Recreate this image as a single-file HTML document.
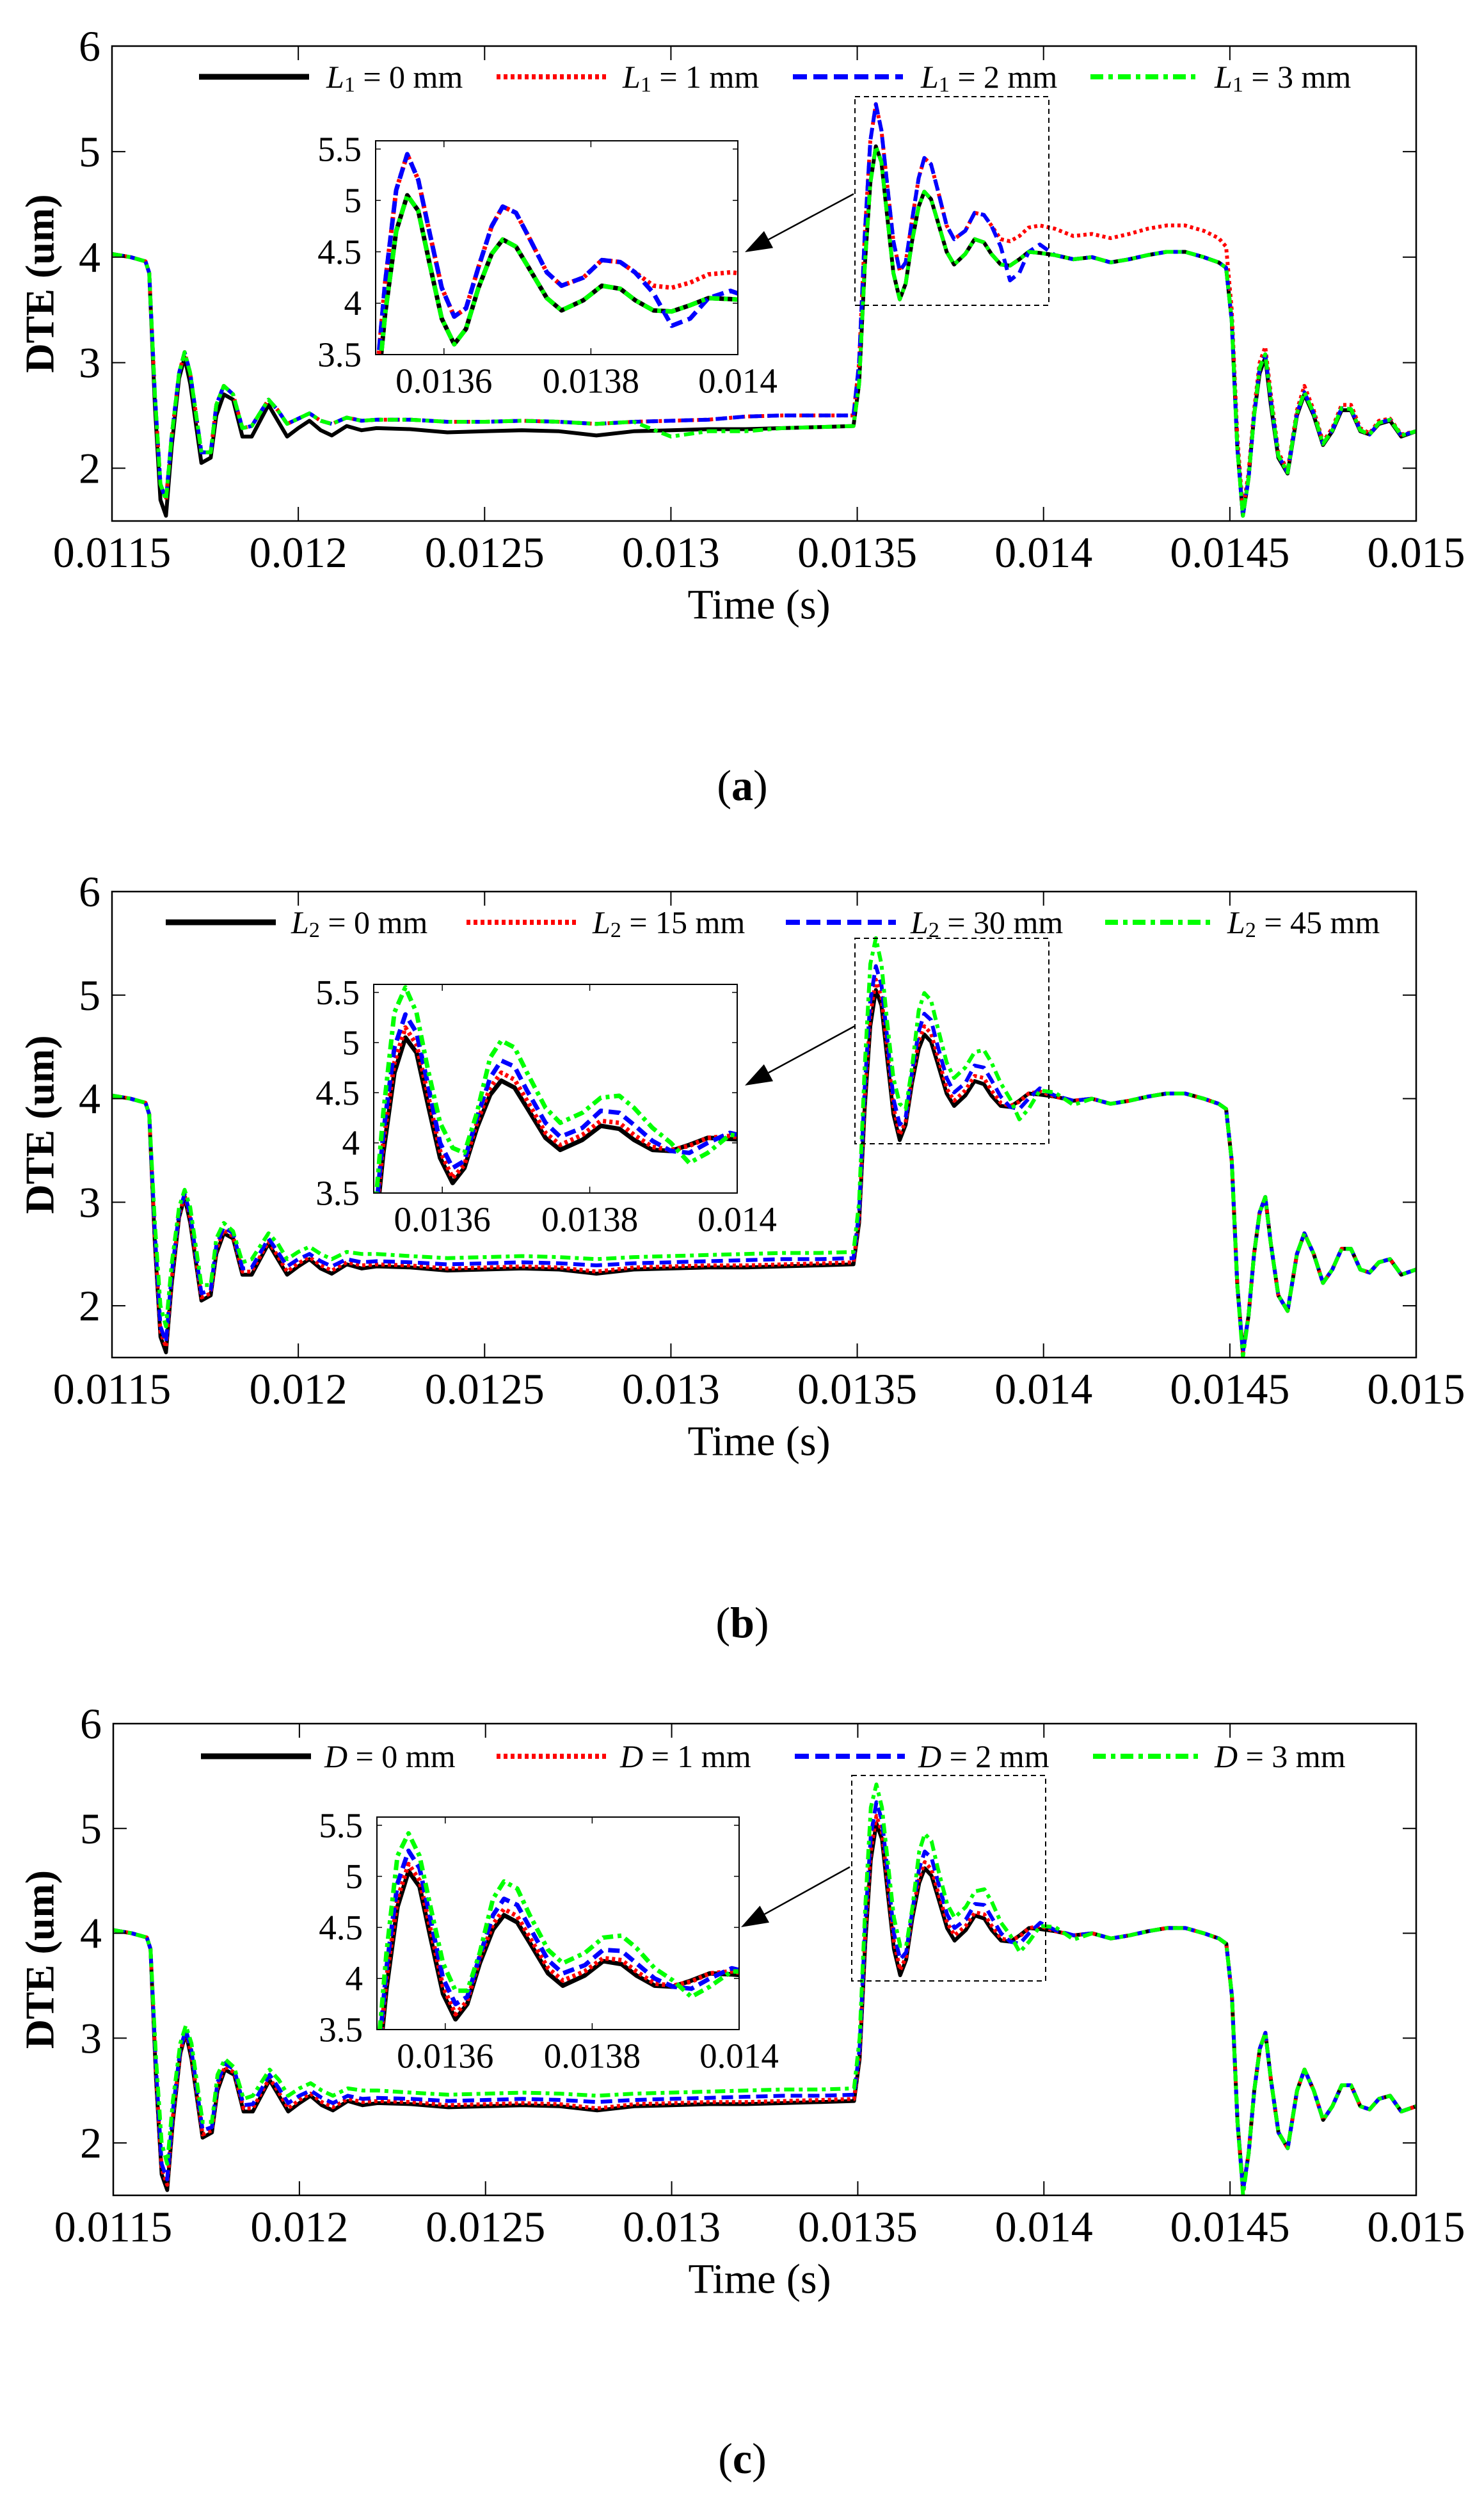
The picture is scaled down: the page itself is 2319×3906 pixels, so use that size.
<!DOCTYPE html>
<html><head><meta charset="utf-8"><title>DTE time histories</title>
<style>
html,body{margin:0;padding:0;background:#fff;}
svg{display:block;font-family:"Liberation Serif","DejaVu Serif",serif;}
text{font-family:"Liberation Serif","DejaVu Serif",serif;}
</style></head>
<body>
<svg id="fig" width="2319" height="3906" viewBox="0 0 2319 3906" xmlns="http://www.w3.org/2000/svg" font-family="Liberation Serif, serif">
<rect x="0" y="0" width="2319" height="3906" fill="#fff"/>
</svg>
<script>
// ---------- data ----------
const times = [0.01150,0.01155,0.01159,0.01160,0.011615,0.01163,0.011645,0.01166,0.01168,0.011695,
0.01171,0.01174,0.011765,0.01178,0.01180,0.011825,0.01185,0.011875,0.01192,0.011945,
0.01197,0.01200,0.01203,0.01206,0.01209,0.01213,0.01217,0.01221,0.0123,0.0124,
0.0125,0.0126,0.0127,0.0128,0.0129,0.0130,0.0131,0.0132,0.0133,0.0134,
0.01349,0.013505,0.01352,0.013535,0.01355,0.013565,0.01358,0.013597,0.013614,0.01363,
0.013647,0.013665,0.01368,0.013698,0.013715,0.01374,0.01376,0.01379,0.013815,0.01384,
0.01386,0.013885,0.01391,0.013935,0.01396,0.01399,0.01403,0.01408,0.01413,0.01418,
0.01423,0.01428,0.01433,0.01438,0.01443,0.01447,0.01449,0.014505,0.01452,0.014535,
0.01455,0.014565,0.01458,0.014595,0.01461,0.01463,0.014655,0.01468,0.0147,0.014725,
0.01475,0.014775,0.0148,0.014825,0.01485,0.014875,0.0149,0.01493,0.01496,0.0150];

const base = [4.03,4.00,3.96,3.85,2.6,1.7,1.55,2.2,2.85,3.05,
2.8,2.05,2.1,2.5,2.7,2.65,2.3,2.3,2.6,2.45,
2.3,2.38,2.45,2.36,2.31,2.4,2.36,2.38,2.37,2.34,
2.35,2.36,2.35,2.31,2.35,2.36,2.37,2.37,2.38,2.39,
2.4,2.8,3.9,4.7,5.05,4.9,4.4,3.85,3.6,3.75,
4.15,4.48,4.62,4.55,4.35,4.05,3.93,4.03,4.17,4.14,
4.03,3.93,3.92,3.98,4.05,4.04,4.02,3.98,4.0,3.95,
3.98,4.02,4.05,4.05,4.0,3.95,3.9,3.4,2.2,1.55,
1.9,2.5,2.9,3.05,2.6,2.1,1.95,2.5,2.7,2.5,
2.22,2.35,2.55,2.55,2.35,2.32,2.42,2.45,2.3,2.35];

// panel (a)
const aL1_0 = base;
const aL1_1 = [4.03,4.00,3.96,3.85,2.7,1.85,1.7,2.3,2.9,3.1,
2.9,2.15,2.15,2.6,2.78,2.7,2.38,2.4,2.65,2.55,
2.42,2.47,2.52,2.45,2.42,2.48,2.45,2.46,2.46,2.44,
2.44,2.45,2.44,2.42,2.44,2.45,2.46,2.49,2.50,2.50,
2.5,3.0,4.2,5.1,5.45,5.2,4.7,4.15,3.87,3.95,
4.35,4.75,4.94,4.88,4.65,4.3,4.17,4.25,4.42,4.4,
4.3,4.17,4.15,4.2,4.28,4.3,4.27,4.2,4.22,4.18,
4.22,4.27,4.3,4.3,4.25,4.18,4.1,3.5,2.3,1.6,
1.95,2.55,3.0,3.15,2.7,2.15,1.98,2.55,2.78,2.55,
2.25,2.38,2.6,2.6,2.38,2.33,2.45,2.47,2.32,2.35];
const aL1_2 = [4.03,4.00,3.96,3.85,2.7,1.85,1.7,2.3,2.9,3.1,
2.9,2.15,2.15,2.6,2.78,2.7,2.38,2.4,2.65,2.55,
2.42,2.47,2.52,2.45,2.42,2.48,2.45,2.46,2.46,2.44,
2.44,2.45,2.44,2.42,2.44,2.45,2.46,2.49,2.50,2.50,
2.5,3.0,4.2,5.1,5.45,5.2,4.7,4.15,3.87,3.95,
4.35,4.75,4.94,4.88,4.65,4.3,4.17,4.25,4.42,4.4,
4.3,4.1,3.78,3.85,4.05,4.12,4.02,3.98,4.0,3.95,
3.98,4.02,4.05,4.05,4.0,3.95,3.9,3.4,2.2,1.55,
1.9,2.5,2.95,3.08,2.65,2.12,1.96,2.52,2.72,2.52,
2.23,2.36,2.57,2.56,2.36,2.32,2.43,2.46,2.31,2.35];
const aL1_3 = [4.03,4.00,3.96,3.85,2.7,1.85,1.7,2.3,2.9,3.1,
2.9,2.15,2.15,2.6,2.78,2.7,2.38,2.4,2.65,2.55,
2.42,2.47,2.52,2.45,2.42,2.48,2.45,2.46,2.46,2.44,
2.44,2.45,2.44,2.42,2.44,2.3,2.35,2.35,2.38,2.39,
2.4,2.8,3.9,4.7,5.05,4.9,4.4,3.85,3.6,3.75,
4.15,4.48,4.62,4.55,4.35,4.05,3.93,4.03,4.17,4.14,
4.03,3.93,3.92,3.98,4.05,4.04,4.02,3.98,4.0,3.95,
3.98,4.02,4.05,4.05,4.0,3.95,3.9,3.4,2.2,1.55,
1.9,2.5,2.95,3.08,2.65,2.12,1.96,2.52,2.72,2.52,
2.23,2.36,2.57,2.56,2.36,2.32,2.43,2.46,2.31,2.35];

// panel (b)
const bL2_0 = base;
const bL2_15 = [4.03,4.00,3.96,3.85,2.65,1.75,1.6,2.25,2.87,3.07,
2.84,2.08,2.12,2.54,2.73,2.67,2.33,2.33,2.62,2.48,
2.33,2.41,2.47,2.39,2.34,2.42,2.39,2.4,2.39,2.36,
2.37,2.38,2.37,2.33,2.37,2.38,2.39,2.39,2.4,2.41,
2.42,2.85,4.0,4.8,5.15,4.98,4.5,3.92,3.65,3.78,
4.2,4.55,4.7,4.63,4.42,4.1,3.98,4.08,4.22,4.2,
4.08,3.96,3.93,3.97,4.05,4.07,4.02,3.98,4.0,3.95,
3.98,4.02,4.05,4.05,4.0,3.95,3.9,3.4,2.2,1.55,
1.9,2.5,2.9,3.05,2.6,2.1,1.95,2.5,2.7,2.5,
2.22,2.35,2.55,2.55,2.35,2.32,2.42,2.45,2.3,2.35];
const bL2_30 = [4.03,4.00,3.96,3.85,2.7,1.8,1.65,2.3,2.9,3.08,
2.88,2.12,2.15,2.58,2.76,2.7,2.36,2.37,2.65,2.52,
2.38,2.45,2.5,2.43,2.38,2.45,2.42,2.43,2.42,2.4,
2.41,2.42,2.41,2.39,2.41,2.42,2.43,2.44,2.45,2.45,
2.46,2.9,4.1,4.95,5.28,5.1,4.6,4.0,3.75,3.82,
4.25,4.65,4.82,4.76,4.52,4.2,4.06,4.15,4.32,4.3,
4.18,4.02,3.92,3.9,4.0,4.1,4.03,3.98,4.0,3.95,
3.98,4.02,4.05,4.05,4.0,3.95,3.9,3.4,2.2,1.55,
1.9,2.5,2.9,3.05,2.6,2.1,1.95,2.5,2.7,2.5,
2.22,2.35,2.55,2.55,2.35,2.32,2.42,2.45,2.3,2.35];
const bL2_45 = [4.03,4.00,3.96,3.85,2.8,2.0,1.8,2.4,2.95,3.12,
2.95,2.2,2.2,2.65,2.8,2.72,2.42,2.45,2.7,2.6,
2.45,2.52,2.57,2.5,2.45,2.52,2.5,2.5,2.48,2.46,
2.47,2.48,2.47,2.45,2.47,2.48,2.49,2.5,2.51,2.51,
2.52,3.0,4.3,5.3,5.55,5.3,4.75,4.2,3.95,3.9,
4.3,4.85,5.02,4.95,4.7,4.35,4.2,4.3,4.45,4.47,
4.35,4.15,4.0,3.8,3.9,4.08,4.06,3.94,4.0,3.95,
3.98,4.02,4.05,4.05,4.0,3.95,3.9,3.4,2.2,1.5,
1.9,2.5,2.9,3.05,2.6,2.1,1.95,2.5,2.7,2.5,
2.22,2.35,2.55,2.55,2.35,2.32,2.42,2.45,2.3,2.35];

// panel (c)
const cD_0 = base;
const cD_1 = [4.03,4.00,3.96,3.85,2.65,1.75,1.6,2.25,2.87,3.07,
2.84,2.08,2.12,2.54,2.73,2.67,2.33,2.33,2.62,2.48,
2.33,2.41,2.47,2.39,2.34,2.42,2.39,2.4,2.39,2.36,
2.37,2.38,2.37,2.33,2.37,2.38,2.39,2.39,2.4,2.41,
2.42,2.85,4.0,4.78,5.12,4.96,4.48,3.92,3.65,3.78,
4.2,4.53,4.68,4.61,4.4,4.1,3.98,4.07,4.2,4.18,
4.07,3.95,3.93,3.97,4.05,4.07,4.02,3.98,4.0,3.95,
3.98,4.02,4.05,4.05,4.0,3.95,3.9,3.4,2.2,1.55,
1.9,2.5,2.9,3.05,2.6,2.1,1.95,2.5,2.7,2.5,
2.22,2.35,2.55,2.55,2.35,2.32,2.42,2.45,2.3,2.35];
const cD_2 = [4.03,4.00,3.96,3.85,2.7,1.8,1.65,2.3,2.9,3.08,
2.88,2.12,2.15,2.58,2.76,2.7,2.36,2.37,2.65,2.52,
2.38,2.45,2.5,2.43,2.38,2.45,2.42,2.43,2.42,2.4,
2.41,2.42,2.41,2.39,2.41,2.42,2.43,2.44,2.45,2.45,
2.46,2.9,4.1,4.93,5.25,5.08,4.58,4.0,3.75,3.82,
4.22,4.62,4.78,4.72,4.5,4.18,4.05,4.13,4.28,4.27,
4.15,4.0,3.92,3.9,4.0,4.1,4.03,3.98,4.0,3.95,
3.98,4.02,4.05,4.05,4.0,3.95,3.9,3.4,2.2,1.55,
1.9,2.5,2.9,3.05,2.6,2.1,1.95,2.5,2.7,2.5,
2.22,2.35,2.55,2.55,2.35,2.32,2.42,2.45,2.3,2.35];
const cD_3 = [4.03,4.00,3.96,3.85,2.8,2.0,1.8,2.4,2.95,3.12,
2.95,2.2,2.2,2.65,2.8,2.72,2.42,2.45,2.7,2.6,
2.45,2.52,2.57,2.5,2.45,2.52,2.5,2.5,2.48,2.46,
2.47,2.48,2.47,2.45,2.47,2.48,2.49,2.5,2.51,2.51,
2.52,3.0,4.25,5.2,5.42,5.2,4.7,4.15,3.88,3.88,
4.25,4.78,4.95,4.88,4.62,4.28,4.15,4.25,4.4,4.42,
4.3,4.1,3.98,3.82,3.92,4.07,4.06,3.94,4.0,3.95,
3.98,4.02,4.05,4.05,4.0,3.95,3.9,3.4,2.2,1.5,
1.9,2.5,2.9,3.05,2.6,2.1,1.95,2.5,2.7,2.5,
2.22,2.35,2.55,2.55,2.35,2.32,2.42,2.45,2.3,2.35];

const xTicks = [0.0115,0.012,0.0125,0.013,0.0135,0.014,0.0145,0.015];
const xTickLabels = ["0.0115","0.012","0.0125","0.013","0.0135","0.014","0.0145","0.015"];
const yTicks = [2,3,4,5,6];
const yTickLabels = ["2","3","4","5","6"];
const insetXTicks = [0.0136,0.0138,0.014];
const insetXTickLabels = ["0.0136","0.0138","0.014"];
const insetYTicks = [3.5,4,4.5,5,5.5];
const insetYTickLabels = ["3.5","4","4.5","5","5.5"];
const legendA = ["0 mm","1 mm","2 mm","3 mm"];
const legendB = ["0 mm","15 mm","30 mm","45 mm"];
const legendC = ["0 mm","1 mm","2 mm","3 mm"];

// ---------- drawing ----------
const NS = "http://www.w3.org/2000/svg";
const FONT = "'Liberation Serif', 'DejaVu Serif', serif";
const svg = document.getElementById('fig');
const styles = [
  {color:'#000000', dash:null},
  {color:'#ff0000', dash:'5,5'},
  {color:'#0000ff', dash:'18,9'},
  {color:'#00ff00', dash:'16,7,6,7'}
];
function mk(tag, attrs, parent){
  const e = document.createElementNS(NS, tag);
  for (const k in attrs) e.setAttribute(k, attrs[k]);
  (parent||svg).appendChild(e);
  return e;
}
function txt(x,y,str,size,anchor,parent,extra){
  const t = mk('text',{x:x,y:y,'font-size':size,'font-family':FONT,'text-anchor':anchor||'middle','dominant-baseline':'central',fill:'#000'},parent);
  if (extra) for (const k in extra) t.setAttribute(k, extra[k]);
  t.textContent = str;
  return t;
}

const panels = [
 {id:'a', L:175, R:2213, T:72, B:814, series:[aL1_0,aL1_1,aL1_2,aL1_3], sym:'L', sub:'1', labels:legendA,
  legX:[311,776,1239,1704], legTX:[510,973,1439,1898], legY:120,
  inset:{L:587,R:1153,T:220,B:554}, zoom:{L:1336,R:1639,T:151,B:477}, arrow:[1334,303,1164,394], caption:1227},
 {id:'b', L:175, R:2213, T:1393, B:2121, series:[bL2_0,bL2_15,bL2_30,bL2_45], sym:'L', sub:'2', labels:legendB,
  legX:[259,729,1228,1727], legTX:[455,926,1423,1918], legY:1441,
  inset:{L:584,R:1152,T:1538,B:1864}, zoom:{L:1336,R:1639,T:1466,B:1787}, arrow:[1336,1603,1164,1696], caption:2535},
 {id:'c', L:177, R:2213, T:2693, B:3430, series:[cD_0,cD_1,cD_2,cD_3], sym:'D', sub:'', labels:legendC,
  legX:[314,776,1242,1708], legTX:[507,969,1435,1898], legY:2744,
  inset:{L:589,R:1155,T:2839,B:3171}, zoom:{L:1331,R:1634,T:2774,B:3095}, arrow:[1328,2917,1158,3011], caption:3841}
];

function drawLines(g, sArr, xf, yf, clipId, w, prefix){
  sArr.forEach((vals,si)=>{
    let d='';
    for (let i=0;i<times.length;i++){
      d += (i?'L':'M') + xf(times[i]).toFixed(1) + ',' + yf(vals[i]).toFixed(1);
    }
    const st = styles[si];
    const p = mk('path',{d:d,fill:'none',stroke:st.color,'stroke-width':w,'stroke-linejoin':'round','clip-path':'url(#'+clipId+')'},g);
    if (st.dash) p.setAttribute('stroke-dasharray', st.dash);
    
    
  });
}

const defs = mk('defs',{});
panels.forEach(P=>{
  const g = mk('g',{});
  
  
  const xMin=0.0115, xMax=0.015, yMin=1.5, yMax=6;
  const xs = t => P.L + (t-xMin)/(xMax-xMin)*(P.R-P.L);
  const ys = v => P.B - (v-yMin)/(yMax-yMin)*(P.B-P.T);

  const cp = mk('clipPath',{id:'clip-'+P.id},defs);
  mk('rect',{x:P.L,y:P.T,width:P.R-P.L,height:P.B-P.T},cp);

  const sg = mk('g',{},g);
  
  
  drawLines(sg, P.series, xs, ys, 'clip-'+P.id, 6, 'main-'+P.id);

  const fr = mk('rect',{x:P.L,y:P.T,width:P.R-P.L,height:P.B-P.T,fill:'none',stroke:'#000','stroke-width':2.5},g);
  
  

  xTicks.forEach((t,i)=>{
    const x = xs(t);
    mk('line',{x1:x,y1:P.B,x2:x,y2:P.B-22,stroke:'#000','stroke-width':2},g);
    mk('line',{x1:x,y1:P.T,x2:x,y2:P.T+22,stroke:'#000','stroke-width':2},g);
    const lb = txt(x, P.B+49, xTickLabels[i], 68, 'middle', g);
    
    
  });
  yTicks.forEach((v,i)=>{
    const y = ys(v);
    mk('line',{x1:P.L,y1:y,x2:P.L+21,y2:y,stroke:'#000','stroke-width':2},g);
    mk('line',{x1:P.R,y1:y,x2:P.R-21,y2:y,stroke:'#000','stroke-width':2},g);
    const lb = txt(P.L-18, y, yTickLabels[i], 68, 'end', g);
    
    
  });

  const xt = txt((P.L+P.R)/2 - 8, P.B+131, 'Time (s)', 66, 'middle', g);
  
  
  const yc = (P.T+P.B)/2;
  const yt = txt(62, yc, 'DTE (um)', 64, 'middle', g, {'font-weight':'bold', transform:'rotate(-90 62 '+yc+')'});
  
  

  P.labels.forEach((lab,i)=>{
    const lg = mk('g',{},g);
    
    
    const st = styles[i];
    const ln = mk('line',{x1:P.legX[i],y1:P.legY,x2:P.legX[i]+172,y2:P.legY,stroke:st.color,'stroke-width':i===0?9:8},lg);
    if (st.dash) ln.setAttribute('stroke-dasharray', i===1?'6,5':(i===2?'22,10':'20,8,7,8'));
    const t = mk('text',{x:P.legTX[i],y:P.legY,'font-size':50,'font-family':FONT,'dominant-baseline':'central',fill:'#000'},lg);
    const s1 = mk('tspan',{'font-style':'italic'},t); s1.textContent = P.sym;
    if (P.sub){ const s2 = mk('tspan',{'font-size':34,dy:12},t); s2.textContent = P.sub;
      const s3 = mk('tspan',{dy:-12},t); s3.textContent = ' = '+lab; }
    else { const s3 = mk('tspan',{},t); s3.textContent = ' = '+lab; }
  });

  const zb = mk('rect',{x:P.zoom.L,y:P.zoom.T,width:P.zoom.R-P.zoom.L,height:P.zoom.B-P.zoom.T,fill:'none',stroke:'#000','stroke-width':2,'stroke-dasharray':'8,6'},g);
  
  

  const I = P.inset;
  const ixMin=0.013507, ixMax=0.014, iyMin=3.5, iyMax=5.58;
  const ixs = t => I.L + (t-ixMin)/(ixMax-ixMin)*(I.R-I.L);
  const iys = v => I.B - (v-iyMin)/(iyMax-iyMin)*(I.B-I.T);
  const ig = mk('g',{},g);
  
  
  mk('rect',{x:I.L,y:I.T,width:I.R-I.L,height:I.B-I.T,fill:'#fff'},ig);
  const icp = mk('clipPath',{id:'iclip-'+P.id},defs);
  mk('rect',{x:I.L,y:I.T,width:I.R-I.L,height:I.B-I.T},icp);
  drawLines(ig, P.series, ixs, iys, 'iclip-'+P.id, 7, 'inset-'+P.id);
  mk('rect',{x:I.L,y:I.T,width:I.R-I.L,height:I.B-I.T,fill:'none',stroke:'#000','stroke-width':2},ig);
  insetXTicks.forEach((t,i)=>{
    const x = ixs(t);
    mk('line',{x1:x,y1:I.B,x2:x,y2:I.B-10,stroke:'#000','stroke-width':1.5},ig);
    mk('line',{x1:x,y1:I.T,x2:x,y2:I.T+10,stroke:'#000','stroke-width':1.5},ig);
    const lb = txt(x, I.B+41, insetXTickLabels[i], 55, 'middle', ig);
    
    
  });
  insetYTicks.forEach((v,i)=>{
    const y = iys(v);
    mk('line',{x1:I.L,y1:y,x2:I.L+8,y2:y,stroke:'#000','stroke-width':1.5},ig);
    mk('line',{x1:I.R,y1:y,x2:I.R-8,y2:y,stroke:'#000','stroke-width':1.5},ig);
    const lb = txt(I.L-22, y, insetYTickLabels[i], 55, 'end', ig);
    
    
  });

  const [x1,y1,x2,y2] = P.arrow;
  const ag = mk('g',{},g);
  
  
  const ang = Math.atan2(y2-y1,x2-x1), len=42, hw=15;
  const bx = x2 - len*Math.cos(ang), by = y2 - len*Math.sin(ang);
  mk('line',{x1:x1,y1:y1,x2:bx,y2:by,stroke:'#000','stroke-width':2.5},ag);
  const px = -Math.sin(ang)*hw, py = Math.cos(ang)*hw;
  mk('polygon',{points:`${x2},${y2} ${bx+px},${by+py} ${bx-px},${by-py}`,fill:'#000'},ag);

  const cap = mk('text',{x:1160,y:P.caption,'font-size':68,'font-family':FONT,'text-anchor':'middle','dominant-baseline':'central',fill:'#000'},g);
  
  
  const c1 = mk('tspan',{},cap); c1.textContent='(';
  const c2 = mk('tspan',{'font-weight':'bold'},cap); c2.textContent=P.id;
  const c3 = mk('tspan',{},cap); c3.textContent=')';
});
</script>
</body></html>
